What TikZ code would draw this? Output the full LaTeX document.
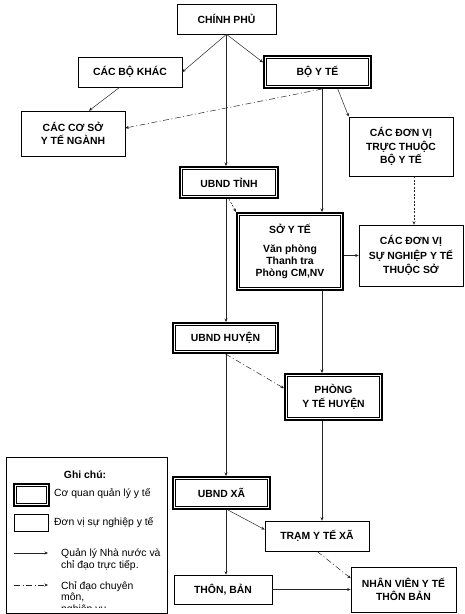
\documentclass[tikz,border=0pt]{standalone}
\usepackage{fontspec}
\setmainfont{Liberation Sans}
\usetikzlibrary{arrows.meta}

\begin{document}
\begin{tikzpicture}[x=1pt,y=-1pt,
  donvi/.style={draw, line width=0.6pt, fill=white, align=center, inner sep=0pt,
    font=\bfseries\fontsize{10.4}{13.5}\selectfont},
  quanly/.style={donvi, preaction={draw, line width=7pt},
    preaction={draw, white, line width=2.4pt}, outer sep=3.5pt},
  ql/.style={draw=black!85, line width=0.5pt, -{Stealth[length=3.5pt,width=3pt]}},
  cd/.style={ql, dash pattern=on 6pt off 2.5pt on 1pt off 2.5pt},
  cdngan/.style={ql, dash pattern=on 2pt off 1.5pt},
  chu/.style={font=\fontsize{10.4}{12.4}\selectfont, align=left, inner sep=0pt}]
\useasboundingbox (0,0) rectangle (465,614);

\coordinate (trai) at (226,0);
\coordinate (phai) at (322,0);

\node[donvi, minimum width=99pt, minimum height=30pt] (cp) at (226.5,19) {CHÍNH PHỦ};
\node[donvi, minimum width=104pt, minimum height=30pt] (bokhac) at (130,72) {CÁC BỘ KHÁC};
\node[quanly, minimum width=102pt, minimum height=27pt] (boyte) at (317.5,72) {BỘ Y TẾ};
\node[donvi, minimum width=104pt, minimum height=45pt] (coso) at (73,133.5) {CÁC CƠ SỞ\\Y TẾ NGÀNH};
\node[donvi, minimum width=104pt, minimum height=59pt] (dvtt) at (401,146.5) {CÁC ĐƠN VỊ\\TRỰC THUỘC\\BỘ Y TẾ};
\node[quanly, minimum width=93pt, minimum height=26pt] (tinh) at (229,182.5) {UBND TỈNH};
\node[quanly, minimum width=101pt, minimum height=72pt,
  font=\bfseries\fontsize{10.4}{12.3}\selectfont] (soyte) at (290,251.5)
  {SỞ Y TẾ\\[6.7pt]Văn phòng\\Thanh tra\\Phòng CM,NV};
\node[donvi, minimum width=104pt, minimum height=61pt,
  font=\bfseries\fontsize{10.4}{14.5}\selectfont] (dvsn) at (411,255.5)
  {CÁC ĐƠN VỊ\\SỰ NGHIỆP Y TẾ\\THUỘC SỞ};
\node[quanly, minimum width=100pt, minimum height=25pt] (huyen) at (225.5,338) {UBND HUYỆN};
\node[quanly, minimum width=92pt, minimum height=41pt] (phong) at (333.5,397) {PHÒNG\\Y TẾ HUYỆN};
\node[quanly, minimum width=92pt, minimum height=27pt] (xa) at (221.5,493) {UBND XÃ};
\node[donvi, minimum width=104pt, minimum height=30pt] (tram) at (317,536) {TRẠM Y TẾ XÃ};
\node[donvi, minimum width=98pt, minimum height=29pt] (thon) at (223,589.5) {THÔN, BẢN};
\node[donvi, minimum width=105pt, minimum height=45pt] (nv) at (403.5,589.5) {NHÂN VIÊN Y TẾ\\THÔN BẢN};

\draw[ql] (cp.south) -- (bokhac.east);
\draw[ql] (cp.south) -- (boyte.170);
\draw[ql] (cp.south -| trai) -- (tinh.north -| trai);
\draw[ql] (bokhac.236) -- (coso.55);
\draw[cd] (boyte.south -| phai) -- (coso.6);
\draw[ql] (boyte.-40) -- (dvtt.north west);
\draw[ql] (boyte.south -| phai) -- (soyte.north -| phai);
\draw[cdngan] ([xshift=13pt]dvtt.south) -- ([xshift=13pt]dvtt.south |- dvsn.north);
\draw[cdngan] (tinh.south) -- (soyte.north west);
\draw[ql] (soyte.east |- dvsn.west) -- (dvsn.west);
\draw[ql] (tinh.south -| trai) -- (huyen.north -| trai);
\draw[ql] (soyte.south -| phai) -- (phong.north -| phai);
\draw[cd] (huyen.south) -- (phong.170);
\draw[ql] (huyen.south -| trai) -- (xa.north -| trai);
\draw[ql] (phong.south -| phai) -- (tram.north -| phai);
\draw[ql] (xa.-69) -- (tram.173);
\draw[ql] (xa.south -| trai) -- (thon.north -| trai);
\draw[cd] (tram.south) -- (nv.168);
\draw[ql] (thon.east) -- (nv.west);

% ghi chu
\node[draw, line width=0.6pt, minimum width=161pt, minimum height=156pt, inner sep=0pt] (ghichu) at (86.5,535) {};
\node[font=\bfseries\fontsize{10.4}{12}\selectfont] (tieude) at (85,475) {Ghi chú:};
\node[quanly, minimum width=30pt, minimum height=17pt] (mau1) at (31.5,495) {};
\node[chu, anchor=west] (nhan1) at (54,494) {Cơ quan quản lý y tế};
\node[donvi, minimum width=34pt, minimum height=17pt] (mau2) at (31,522.5) {};
\node[chu, anchor=west] (nhan2) at (54,523) {Đơn vị sự nghiệp y tế};
\coordinate (a1) at (14,553);
\coordinate (b1) at (48,553);
\draw[ql] (a1) -- (b1);
\node[chu, anchor=west] (nhan3) at (61,559.5) {Quản lý Nhà nước và\\chỉ đạo trực tiếp.};
\coordinate (a2) at (14,585);
\coordinate (b2) at (48,585);
\draw[cd] (a2) -- (b2);
\begin{scope}
\clip (6,457) rectangle (167,607.5);
\node[chu, anchor=west, font=\fontsize{10.4}{11.5}\selectfont] (nhan4) at (61,598) {Chỉ đạo chuyên\\môn,\\nghiệp vụ};
\end{scope}
\end{tikzpicture}
\end{document}
